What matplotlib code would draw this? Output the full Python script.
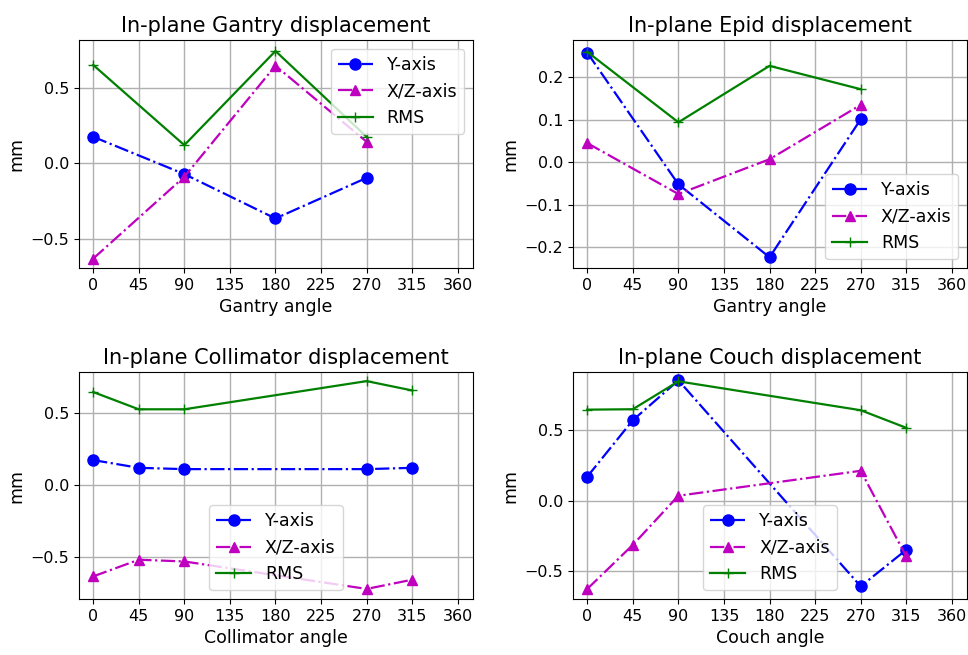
import numpy as np
import matplotlib
matplotlib.use('Agg')
import matplotlib.pyplot as plt
from matplotlib.ticker import MultipleLocator

# gantry: 4 angles
gantry_angle = [0, 90, 180, 270]
gantry_y = [0.176, -0.07, -0.363, -0.095]
gantry_xz = [-0.628, -0.088, 0.645, 0.143]
gantry_rms = [0.65, 0.121, 0.742, 0.176]

# epid (also vs gantry angle)
epid_angle = [0, 90, 180, 270]
epid_y = [0.258, -0.052, -0.224, 0.101]
epid_xz = [0.045, -0.075, 0.007, 0.135]
epid_rms = [0.26, 0.094, 0.227, 0.172]

# collimator
coll_angle = [0, 45, 90, 270, 315]
coll_y = [0.176, 0.122, 0.113, 0.113, 0.122]
coll_xz = [-0.633, -0.517, -0.529, -0.72, -0.656]
coll_rms = [0.649, 0.529, 0.529, 0.725, 0.66]

# couch
couch_angle = [0, 45, 90, 270, 315]
couch_y = [0.17, 0.571, 0.854, -0.608, -0.349]
couch_xz = [-0.627, -0.314, 0.035, 0.212, -0.396]
couch_rms = [0.646, 0.649, 0.847, 0.642, 0.517]

xticks = list(range(0, 361, 45))

fs = 11.5
plt.rcParams['font.size'] = fs

fig = plt.figure(figsize=(9.68, 6.55), dpi=100)

panels = [
    ([0.0816, 0.591, 0.407, 0.348], gantry_angle, gantry_y, gantry_xz, gantry_rms,
     "In-plane Gantry displacement", "Gantry angle", 'upper right', (-0.689, 0.815), 0.5),
    ([0.592, 0.591, 0.407, 0.348], epid_angle, epid_y, epid_xz, epid_rms,
     "In-plane Epid displacement", "Gantry angle", 'lower right', (-0.249, 0.288), 0.1),
    ([0.0816, 0.0855, 0.407, 0.3465], coll_angle, coll_y, coll_xz, coll_rms,
     "In-plane Collimator displacement", "Collimator angle", 'lower center', (-0.79, 0.788), 0.5),
    ([0.592, 0.0855, 0.407, 0.3465], couch_angle, couch_y, couch_xz, couch_rms,
     "In-plane Couch displacement", "Couch angle", 'lower center', (-0.698, 0.913), 0.5),
]

for rect, ang, y, xz, rms, title, xlabel, loc, ylim, ystep in panels:
    ax = fig.add_axes(rect)
    ax.plot(ang, y, 'bo-.', label='Y-axis', lw=1.6, markersize=8)
    ax.plot(ang, xz, 'm^-.', label='X/Z-axis', lw=1.6, markersize=7)
    ax.plot(ang, rms, 'g-+', label='RMS', lw=1.6, markersize=7)
    ax.set_xticks(xticks)
    ax.set_xlim(-14, 375)
    ax.set_ylim(*ylim)
    ax.yaxis.set_major_locator(MultipleLocator(ystep))
    ax.grid(True, lw=1.0)
    ax.set_title(title, fontsize=15)
    ax.set_xlabel(xlabel, fontsize=12.5)
    ax.set_ylabel('mm', fontsize=12.5)
    ax.legend(loc=loc, fontsize=12.5)

fig.savefig('out.png', dpi=100)
